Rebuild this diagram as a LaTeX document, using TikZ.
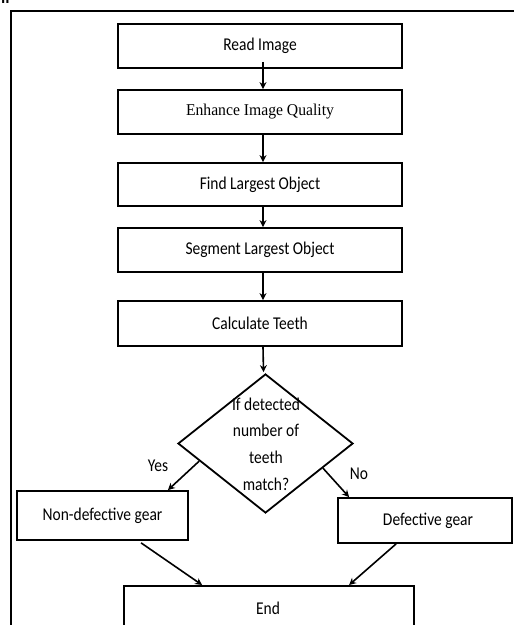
\documentclass[tikz,border=0pt]{standalone}
\usepackage{fontspec}
\usepackage{graphicx}
\setmainfont{Carlito}
\newfontfamily\tnr{Liberation Serif}
\newcommand{\cf}[1]{\scalebox{0.86}[1]{#1}}
\usetikzlibrary{shapes.geometric,arrows.meta,calc}
\begin{document}
\begin{tikzpicture}[x=1pt,y=-1pt,
  procbox/.style={draw,line width=1.8pt,minimum width=284pt,minimum height=44pt,inner sep=0pt,font=\fontsize{18}{20}\selectfont},
  conn/.style={line width=1.6pt,-{Stealth[length=7pt,width=7pt]}},
  lbl/.style={inner sep=0pt,font=\fontsize{18}{20}\selectfont}]
\useasboundingbox (0,0) rectangle (514,625);
\clip (0,0) rectangle (514,625);
\fill[white] (0,0) rectangle (514,625);
% fragment of caption at top left
\node[anchor=base west,inner sep=0pt,font=\bfseries\fontsize{16}{18}\selectfont] (frag) at (1,3.5) {II};
% outer frame
\draw[line width=2.2pt] (11,640) -- (11,11) -- (530,11);
% boxes
\node[procbox] (b1) at (260,46) {\cf{Read Image}};
\node[procbox] (b2) at (260,112) {\tnr\fontsize{16.5}{18}\selectfont\scalebox{0.95}[1]{Enhance Image Quality}};
\node[procbox,minimum height=43pt] (b3) at (260,184.5) {\cf{Find Largest Object}};
\node[procbox] (b4) at (260,250) {\cf{Segment Largest Object}};
\node[procbox,minimum height=45pt] (b5) at (260,323.5) {\cf{Calculate Teeth}};
% decision
\node[draw,diamond,line width=1.8pt,minimum width=175pt,minimum height=139pt,inner sep=0pt] (dia) at (265.5,443.5) {};
\node[lbl] (qt) at (266,445) {\cf{\fontsize{18}{26.7}\selectfont\begin{tabular}{@{}c@{}}If detected\\number of\\teeth\\match?\end{tabular}}};
% outcomes
\node[procbox,minimum width=171pt,minimum height=49pt] (nd) at (102.5,515.5) {\cf{Non-defective gear}};
\node[procbox,minimum width=174pt,minimum height=45pt] (df) at (425,520.5) {\hspace*{6pt}\cf{Defective gear}};
\node[procbox,minimum width=290pt,minimum height=48pt,anchor=north] (end) at (269,585) {};
\node[lbl] (endt) at (268,608) {\cf{End}};
% labels
\node[lbl] (yes) at (158,466) {\cf{Yes}};
\node[lbl] (no) at (359,474) {\cf{No}};
% connectors
\draw[conn] ($(b1.south)+(3,-7)$) -- ($(b2.north)+(3,0)$);
\draw[conn] ($(b2.south)+(3,0)$) -- ($(b3.north)+(3,0)$);
\draw[conn] ($(b3.south)+(3,0)$) -- ($(b4.north)+(3,0)$);
\draw[conn] ($(b4.south)+(3,0)$) -- ($(b5.north)+(3,0)$);
\draw[conn] ($(b5.south)+(3,0)$) -- ($(dia.north)+(-2,-1)$);
\draw[conn] ($(dia.west)!0.25!(dia.south)$) -- ($(nd.north east)+(-21,0)$);
\draw[conn] ($(dia.east)!0.35!(dia.south)$) -- ($(df.north west)+(12,0)$);
\draw[conn] ($(nd.south west)+(125,2)$) -- ($(end.north west)+(79,0)$);
\draw[conn] ($(df.south west)+(59,0)$) -- ($(end.north west)+(226,0)$);
\end{tikzpicture}
\end{document}
